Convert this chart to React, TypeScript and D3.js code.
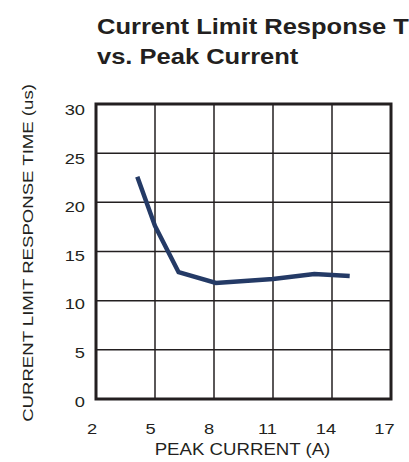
import React from "react";
import * as d3 from "d3";

const peakCurrent = [4.1, 5.0, 6.2, 8.1, 11.0, 13.1, 14.9];
const responseTime = [22.6, 17.6, 12.9, 11.8, 12.2, 12.7, 12.5];
const xTicks = [2, 5, 8, 11, 14, 17];
const yTicks = [0, 5, 10, 15, 20, 25, 30];

const W = 409;
const H = 462;
const M = { left: 96, right: 391, top: 104, bottom: 399 };
const FONT = "'Liberation Sans', Arial, sans-serif";
const INK = "#231f20";

export default function App() {
  const x = d3.scaleLinear().domain([2, 17]).range([M.left, M.right]);
  const y = d3.scaleLinear().domain([0, 30]).range([M.bottom, M.top]);
  // label placement scales (labels sit slightly offset from gridlines)
  const xLab = d3.scaleLinear().domain([2, 17]).range([92, 384.5]);
  const yLab = d3.scaleLinear().domain([0, 30]).range([401, 109.5]);
  const line = d3
    .line<number>()
    .x((_, i) => x(peakCurrent[i]))
    .y((d) => y(d));

  return (
    <svg
      width={W}
      height={H}
      style={{ position: "absolute", left: 0, top: 0, background: "#fff" }}
      fontFamily={FONT}
    >
      <text
        transform="translate(97,34) scale(1.16,1)"
        fontSize={22}
        fontWeight="bold"
        fill={INK}
      >
        Current Limit Response Time
      </text>
      <text
        transform="translate(97,64) scale(1.16,1)"
        fontSize={22}
        fontWeight="bold"
        fill={INK}
      >
        vs. Peak Current
      </text>

      {xTicks.slice(1, -1).map((t) => (
        <line
          key={"vx" + t}
          x1={x(t)}
          x2={x(t)}
          y1={M.top}
          y2={M.bottom}
          stroke={INK}
          strokeWidth={1.5}
        />
      ))}
      {yTicks.slice(1, -1).map((t) => (
        <line
          key={"hy" + t}
          x1={M.left}
          x2={M.right}
          y1={y(t)}
          y2={y(t)}
          stroke={INK}
          strokeWidth={1.5}
        />
      ))}
      <rect
        x={M.left}
        y={M.top}
        width={M.right - M.left}
        height={M.bottom - M.top}
        fill="none"
        stroke={INK}
        strokeWidth={3}
      />

      <path
        d={line(responseTime) || ""}
        fill="none"
        stroke="#243a66"
        strokeWidth={4.5}
        strokeLinejoin="miter"
      />

      {yTicks.map((t) => (
        <text
          key={"yl" + t}
          transform={`translate(85,${yLab(t) + 5.5}) scale(1.18,1)`}
          textAnchor="end"
          fontSize={15.5}
          fill={INK}
        >
          {t}
        </text>
      ))}
      {xTicks.map((t) => (
        <text
          key={"xl" + t}
          transform={`translate(${xLab(t)},434) scale(1.18,1)`}
          textAnchor="middle"
          fontSize={15.5}
          fill={INK}
        >
          {t}
        </text>
      ))}
      <text
        transform={`translate(${(M.left + M.right) / 2 - 1},455) scale(1.13,1)`}
        textAnchor="middle"
        fontSize={16.5}
        fill={INK}
      >
        PEAK CURRENT (A)
      </text>
      <text
        transform={`translate(32.5,253) rotate(-90) scale(1.2,1)`}
        textAnchor="middle"
        fontSize={15.5}
        fill={INK}
      >
        CURRENT LIMIT RESPONSE TIME (us)
      </text>
    </svg>
  );
}
